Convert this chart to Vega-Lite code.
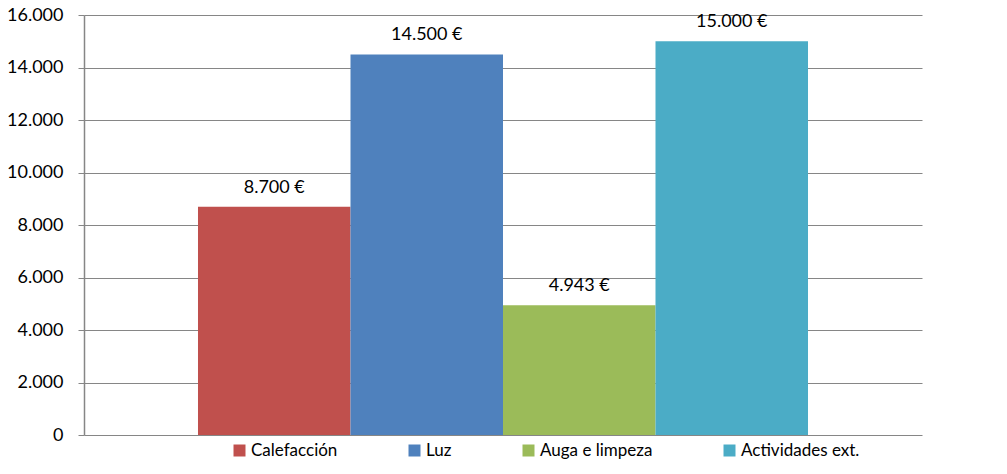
{
  "$schema": "https://vega.github.io/schema/vega-lite/v6.json",
  "autosize": {"type": "none"},
  "width": 838,
  "height": 420,
  "padding": {"left": 84, "top": 15, "right": 85, "bottom": 39},
  "background": "white",
  "config": {
    "locale": {"number": {"decimal": ",", "thousands": ".", "grouping": [3], "currency": ["", " €"]}},
    "view": {"stroke": null},
    "font": "Lato"
  },
  "data": {
    "values": [
      {"categoria": "Calefacción", "importe": 8700},
      {"categoria": "Luz", "importe": 14500},
      {"categoria": "Auga e limpeza", "importe": 4943},
      {"categoria": "Actividades ext.", "importe": 15000}
    ]
  },
  "encoding": {
    "x": {
      "field": "categoria",
      "type": "nominal",
      "sort": ["Calefacción", "Luz", "Auga e limpeza", "Actividades ext."],
      "scale": {"paddingInner": 0, "paddingOuter": 0.7475},
      "axis": null
    },
    "y": {
      "field": "importe",
      "type": "quantitative",
      "scale": {"domain": [0, 16000], "nice": false},
      "axis": {
        "title": null,
        "values": [0, 2000, 4000, 6000, 8000, 10000, 12000, 14000, 16000],
        "format": ",.0f",
        "labelFont": "Lato",
        "labelFontSize": 18,
        "labelColor": "#000000",
        "labelPadding": 15,
        "tickSize": 6,
        "tickColor": "#868686",
        "domainColor": "#868686",
        "domainWidth": 1.5,
        "gridColor": "#868686",
        "gridWidth": 1,
        "gridOpacity": 1
      }
    }
  },
  "layer": [
    {
      "mark": {"type": "bar"},
      "encoding": {
        "color": {
          "field": "categoria",
          "type": "nominal",
          "scale": {
            "domain": ["Calefacción", "Luz", "Auga e limpeza", "Actividades ext."],
            "range": ["#C0504D", "#4F81BD", "#9BBB59", "#4BACC6"]
          },
          "legend": {
            "title": null,
            "orient": "none",
            "direction": "horizontal",
            "legendX": 147,
            "legendY": 427,
            "symbolType": "square",
            "symbolSize": 144,
            "symbolStrokeWidth": 0,
            "labelFont": "Lato",
            "labelFontSize": 17,
            "labelColor": "#000000",
            "labelOffset": 3,
            "columnPadding": 68,
            "gridAlign": "none"
          }
        }
      }
    },
    {
      "mark": {"type": "text", "baseline": "middle", "dy": -19, "fontSize": 18, "font": "Lato", "color": "#000000"},
      "encoding": {
        "text": {"field": "importe", "type": "quantitative", "format": "$,.0f"}
      }
    }
  ]
}
